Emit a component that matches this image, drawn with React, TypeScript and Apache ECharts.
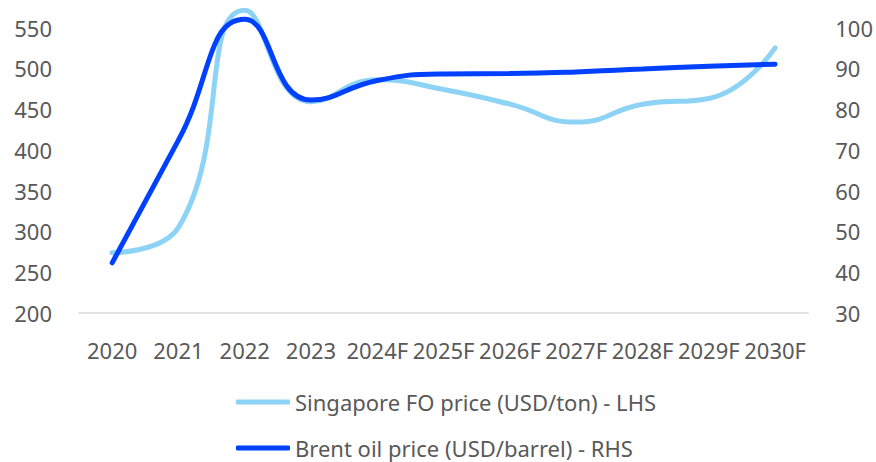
import React, { useEffect, useRef } from "react";
import * as echarts from "echarts";

const categories = ["2020", "2021", "2022", "2023", "2024F", "2025F", "2026F", "2027F", "2028F", "2029F", "2030F"];
const singaporeFO = [274, 305, 571, 459, 486, 474, 456, 434, 456, 463, 525];
const brentOil = [42.3, 72.4, 102, 82.2, 87, 88.6, 88.7, 89.1, 89.8, 90.5, 91];
const leftTicks = { min: 200, max: 550, interval: 50 };
const rightTicks = { min: 30, max: 100, interval: 10 };

const FONT = "'Noto Sans', sans-serif";
const TEXT = "#595959";
const FS = 22;

export default function App() {
  const ref = useRef<HTMLDivElement>(null);
  useEffect(() => {
    if (!ref.current) return;
    const chart = echarts.init(ref.current, undefined, { renderer: "svg" });
    chart.setOption({
      animation: false,
      textStyle: { fontFamily: FONT },
      grid: { left: 79, right: 65, top: 27.5, bottom: 149, containLabel: false },
      legend: {
        orient: "vertical",
        left: 236,
        top: 391,
        height: 80,
        padding: 0,
        itemWidth: 54,
        itemHeight: 5,
        itemGap: 24,
        icon: "roundRect",
        textStyle: { fontSize: FS, color: TEXT, fontFamily: FONT },
        data: ["Singapore FO price (USD/ton) - LHS", "Brent oil price (USD/barrel) - RHS"],
      },
      xAxis: {
        type: "category",
        data: categories,
        boundaryGap: true,
        axisLine: { lineStyle: { color: "#d9d9d9", width: 1.5 } },
        axisTick: { show: false },
        axisLabel: { color: TEXT, fontSize: FS, margin: 26, interval: 0, fontFamily: FONT },
      },
      yAxis: [
        {
          type: "value",
          ...leftTicks,
          splitLine: { show: false },
          axisLine: { show: false },
          axisTick: { show: false },
          axisLabel: { color: TEXT, fontSize: FS, margin: 27, fontFamily: FONT },
        },
        {
          type: "value",
          ...rightTicks,
          position: "right",
          splitLine: { show: false },
          axisLine: { show: false },
          axisTick: { show: false },
          axisLabel: { color: TEXT, fontSize: FS, margin: 27, fontFamily: FONT },
        },
      ],
      series: [
        {
          name: "Singapore FO price (USD/ton) - LHS",
          type: "line",
          yAxisIndex: 0,
          data: singaporeFO,
          smooth: 0.5,
          clip: false,
          symbol: "none",
          color: "#8dd3f5",
          lineStyle: { width: 5, color: "#8dd3f5", cap: "round" },
        },
        {
          name: "Brent oil price (USD/barrel) - RHS",
          type: "line",
          yAxisIndex: 1,
          data: brentOil,
          smooth: 0.5,
          clip: false,
          symbol: "none",
          color: "#0041ff",
          lineStyle: { width: 5, color: "#0041ff", cap: "round" },
        },
      ],
    });
    return () => chart.dispose();
  }, []);
  return <div ref={ref} style={{ width: 876, height: 462, position: "absolute", left: 0, top: 0 }} />;
}
